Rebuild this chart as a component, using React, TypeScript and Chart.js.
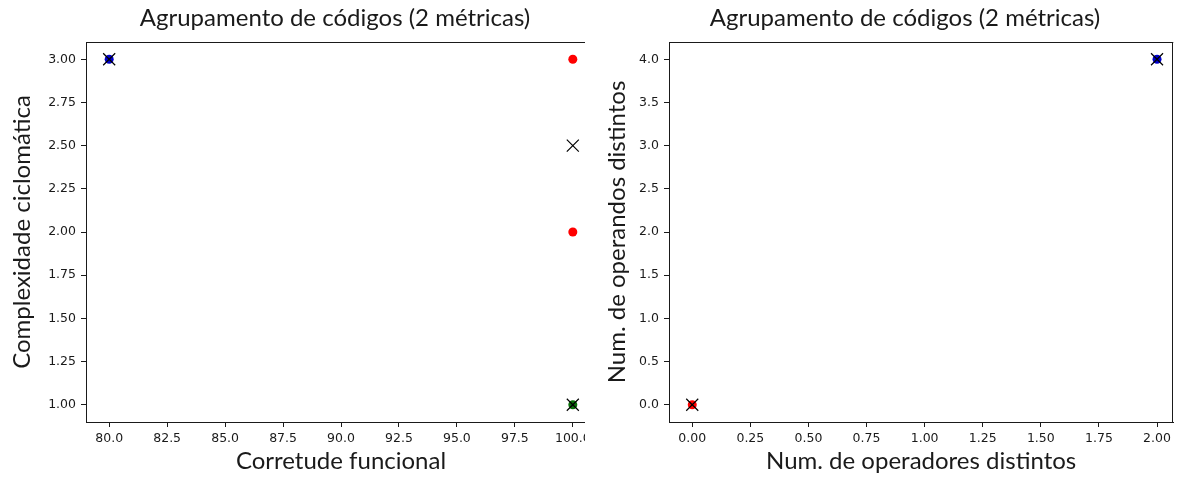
import React, { useEffect, useRef } from 'react';
import { Chart, registerables } from 'chart.js';

Chart.register(...registerables);

// ---------- Data: left plot (Corretude funcional x Complexidade ciclomática) ----------
const leftRedX = [100, 100];
const leftRedY = [3, 2];
const leftBlueX = [80];
const leftBlueY = [3];
const leftGreenX = [100];
const leftGreenY = [1];
const leftCentroidX = [80, 100, 100];
const leftCentroidY = [3, 2.5, 1];
const leftXTicks = [80, 82.5, 85, 87.5, 90, 92.5, 95, 97.5, 100];
const leftYTicks = [1, 1.25, 1.5, 1.75, 2, 2.25, 2.5, 2.75, 3];

// ---------- Data: right plot (operadores x operandos) ----------
const rightRedX = [0];
const rightRedY = [0];
const rightBlueX = [2];
const rightBlueY = [4];
const rightCentroidX = [0, 2];
const rightCentroidY = [0, 4];
const rightXTicks = [0, 0.25, 0.5, 0.75, 1, 1.25, 1.5, 1.75, 2];
const rightYTicks = [0, 0.5, 1, 1.5, 2, 2.5, 3, 3.5, 4];

const TITLE = 'Agrupamento de códigos (2 métricas)';
const RED = '#ff0000';
const BLUE = '#0000cc';
const GREEN = '#0a6e0a';
const INK = '#1a1a1a';

const pts = (xs: number[], ys: number[]) => xs.map((x, i) => ({ x, y: ys[i] }));

const framePlugin = {
  id: 'frame',
  afterDraw(chart: any, _args: any, opts: any) {
    const { ctx, chartArea: a } = chart;
    ctx.save();
    ctx.strokeStyle = INK;
    ctx.lineWidth = 1;
    const top = Math.round(a.top) + 0.5;
    const right = Math.round(a.right) - 0.5;
    ctx.beginPath();
    ctx.moveTo(a.left, top);
    ctx.lineTo(a.right, top);
    if (opts.rightSpine) {
      ctx.moveTo(right, a.top);
      ctx.lineTo(right, a.bottom);
    }
    ctx.stroke();
    ctx.font = '24px Lato';
    ctx.fillStyle = INK;
    ctx.textAlign = 'center';
    ctx.textBaseline = 'middle';
    ctx.fillText(opts.title, opts.titleX, 18);
    ctx.restore();
  },
};

function makeConfig(p: {
  red: { x: number; y: number }[];
  blue: { x: number; y: number }[];
  green: { x: number; y: number }[] | null;
  centroids: { x: number; y: number }[];
  xMin: number; xMax: number; yMin: number; yMax: number;
  xTicks: number[]; yTicks: number[];
  xDec: number; yDec: number;
  xTitle: string; yTitle: string;
  yWidth: number; padRight: number; yTitlePad: number;
  titleX: number; rightSpine: boolean;
}): any {
  const datasets: any[] = [
    {
      label: 'centroids',
      data: p.centroids,
      pointStyle: 'crossRot',
      pointRadius: 8.5,
      pointBorderColor: '#000',
      pointBorderWidth: 1.2,
      backgroundColor: '#000',
      borderColor: '#000',
      showLine: false,
    },
    {
      label: 'red',
      data: p.red,
      pointStyle: 'circle',
      pointRadius: 4.5,
      pointBorderWidth: 0,
      backgroundColor: RED,
      borderColor: RED,
    },
    {
      label: 'blue',
      data: p.blue,
      pointStyle: 'circle',
      pointRadius: 4.5,
      pointBorderWidth: 0,
      backgroundColor: BLUE,
      borderColor: BLUE,
    },
  ];
  if (p.green) {
    datasets.push({
      label: 'green',
      data: p.green,
      pointStyle: 'circle',
      pointRadius: 4.5,
      pointBorderWidth: 0,
      backgroundColor: GREEN,
      borderColor: GREEN,
    });
  }
  const tickFont = { family: '"DejaVu Sans"', size: 12.5 };
  const titleFont = { family: 'Lato', size: 24 };
  return {
    type: 'scatter',
    data: { datasets },
    plugins: [framePlugin],
    options: {
      responsive: false,
      animation: false,
      events: [],
      layout: { padding: { top: 42, right: p.padRight, left: 0, bottom: 0 } },
      plugins: {
        legend: { display: false },
        tooltip: { enabled: false },
        title: { display: false },
        frame: { title: TITLE, titleX: p.titleX, rightSpine: p.rightSpine },
      },
      scales: {
        x: {
          type: 'linear',
          min: p.xMin,
          max: p.xMax,
          afterBuildTicks: (axis: any) => {
            axis.ticks = p.xTicks.map((v) => ({ value: v }));
          },
          afterFit: (axis: any) => {
            axis.height = 55;
          },
          ticks: {
            autoSkip: false,
            maxRotation: 0,
            padding: 4,
            color: INK,
            font: tickFont,
            callback: (v: any) => Number(v).toFixed(p.xDec),
          },
          grid: { drawOnChartArea: false, drawTicks: true, tickLength: 5, tickColor: INK },
          border: { display: true, color: INK, width: 1 },
          title: { display: true, text: p.xTitle, color: INK, font: titleFont, padding: { top: 0, bottom: 1 } },
        },
        y: {
          type: 'linear',
          min: p.yMin,
          max: p.yMax,
          afterBuildTicks: (axis: any) => {
            axis.ticks = p.yTicks.map((v) => ({ value: v }));
          },
          afterFit: (axis: any) => {
            axis.width = p.yWidth;
          },
          ticks: {
            autoSkip: false,
            padding: 5,
            color: INK,
            font: tickFont,
            callback: (v: any) => Number(v).toFixed(p.yDec),
          },
          grid: { drawOnChartArea: false, drawTicks: true, tickLength: 5, tickColor: INK },
          border: { display: true, color: INK, width: 1 },
          title: { display: true, text: p.yTitle, color: INK, font: titleFont, padding: { top: p.yTitlePad, bottom: 0 } },
        },
      },
    },
  };
}

export default function App() {
  const leftRef = useRef<HTMLCanvasElement>(null);
  const rightRef = useRef<HTMLCanvasElement>(null);

  useEffect(() => {
    const left = new Chart(
      leftRef.current as HTMLCanvasElement,
      makeConfig({
        red: pts(leftRedX, leftRedY),
        blue: pts(leftBlueX, leftBlueY),
        green: pts(leftGreenX, leftGreenY),
        centroids: pts(leftCentroidX, leftCentroidY),
        xMin: 79, xMax: 101, yMin: 0.9, yMax: 3.1,
        xTicks: leftXTicks, yTicks: leftYTicks,
        xDec: 1, yDec: 2,
        xTitle: 'Corretude funcional',
        yTitle: 'Complexidade ciclomática',
        yWidth: 86, padRight: 24, yTitlePad: 8,
        titleX: 335, rightSpine: true,
      })
    );
    const right = new Chart(
      rightRef.current as HTMLCanvasElement,
      makeConfig({
        red: pts(rightRedX, rightRedY),
        blue: pts(rightBlueX, rightBlueY),
        green: null,
        centroids: pts(rightCentroidX, rightCentroidY),
        xMin: -0.1, xMax: 2.07, yMin: -0.2, yMax: 4.2,
        xTicks: rightXTicks, yTicks: rightYTicks,
        xDec: 2, yDec: 1,
        xTitle: 'Num. de operadores distintos',
        yTitle: 'Num. de operandos distintos',
        yWidth: 69, padRight: 8, yTitlePad: 3,
        titleX: 905 - 600, rightSpine: true,
      })
    );
    return () => {
      left.destroy();
      right.destroy();
    };
  }, []);

  return (
    <div style={{ position: 'absolute', left: 0, top: 0, width: 1183, height: 477, background: '#fff', overflow: 'hidden' }}>
      <div style={{ position: 'absolute', left: 0, top: 0, width: 585, height: 477, overflow: 'hidden' }}>
        <canvas ref={leftRef} width={620} height={477} style={{ display: 'block' }} />
      </div>
      <div style={{ position: 'absolute', left: 600, top: 0, width: 583, height: 477, overflow: 'hidden' }}>
        <canvas ref={rightRef} width={583} height={477} style={{ display: 'block' }} />
      </div>
    </div>
  );
}
